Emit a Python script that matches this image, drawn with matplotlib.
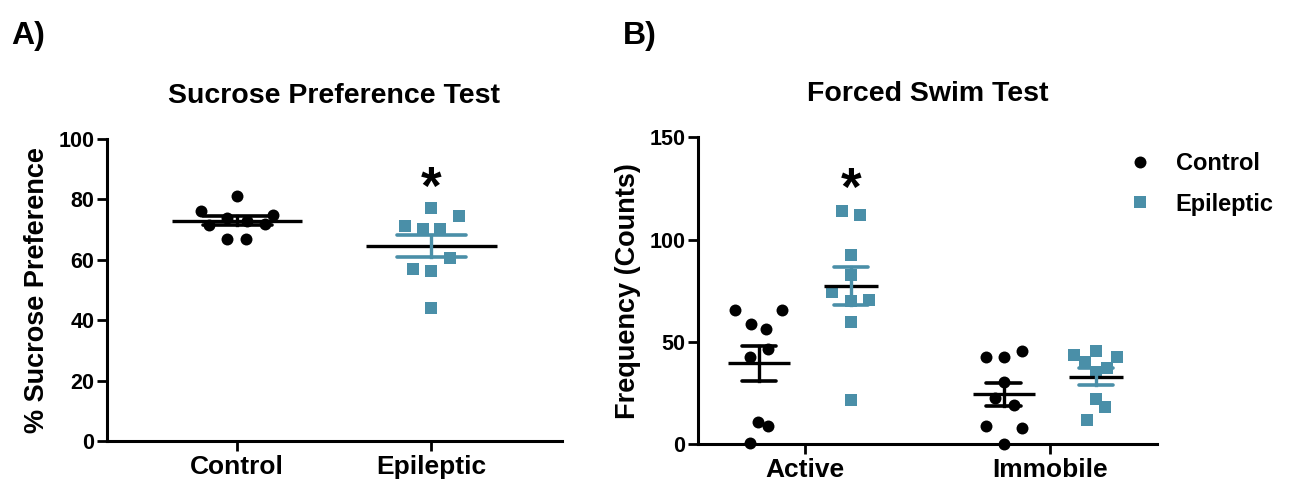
import numpy as np
import matplotlib.pyplot as plt
from matplotlib.lines import Line2D

plt.rcParams['font.family'] = ['Liberation Sans', 'DejaVu Sans']
plt.rcParams['font.weight'] = 'bold'
plt.rcParams['axes.labelweight'] = 'bold'

teal = '#4a8fa8'

# A) sucrose preference (%)
spt_groups = ['Control', 'Epileptic']
spt_control = [81, 76, 75, 74, 73, 72, 71.5, 67, 67]
spt_epileptic = [77.0, 74.5, 71.3, 70.2, 70.3, 60.7, 56.9, 56.3, 44.0]
# horizontal scatter of the points (category units)
spt_control_jit = [0, -0.186, 0.186, -0.052, 0.052, 0.144, -0.144, -0.052, 0.046]
spt_epileptic_jit = [0, 0.141, -0.138, -0.046, 0.046, 0.094, -0.096, 0, 0]

# B) forced swim test (counts)
fst_groups = ['Active', 'Immobile']
fst_control_active = [65.6, 65.6, 58.6, 56.5, 46.5, 42.8, 11.0, 8.9, 0.8]
fst_epileptic_active = [114.1, 112.2, 92.3, 82.5, 74.2, 70.5, 70.2, 59.6, 21.6]
fst_control_immobile = [42.8, 42.8, 45.7, 30.6, 22.5, 19.2, 8.9, 8.1, 0]
fst_epileptic_immobile = [43.6, 45.7, 42.8, 40.4, 37.1, 35.5, 22.0, 18.1, 11.9]
fst_control_active_jit = [-0.098, 0.093, -0.033, 0.029, 0.037, -0.037, -0.004, 0.037, -0.037]
fst_epileptic_active_jit = [-0.038, 0.037, 0, 0, -0.076, 0.075, 0, 0, 0]
fst_control_immobile_jit = [-0.075, 0, 0.073, 0, -0.037, 0.041, -0.075, 0.073, 0]
fst_epileptic_immobile_jit = [-0.089, 0, 0.087, -0.044, 0.045, 0, 0, 0.038, -0.037]


def group(ax, x, vals, jit, marker, color, mean_w, cap_w, ms):
    vals = np.array(vals, dtype=float)
    m = vals.mean()
    sem = vals.std(ddof=1) / np.sqrt(len(vals))
    ax.plot(x + np.array(jit), vals, linestyle='none', marker=marker, color=color,
            markersize=ms, markeredgewidth=0, zorder=2, clip_on=False)
    ax.plot([x - mean_w, x + mean_w], [m, m], color='black', lw=2.4, zorder=3,
            solid_capstyle='butt')
    ax.plot([x, x], [m - sem, m + sem], color=color, lw=2.4, zorder=3)
    for yy in (m - sem, m + sem):
        ax.plot([x - cap_w, x + cap_w], [yy, yy], color=color, lw=2.6, zorder=3,
                solid_capstyle='round')


def style(ax):
    for s in ['top', 'right']:
        ax.spines[s].set_visible(False)
    for s in ['left', 'bottom']:
        ax.spines[s].set_linewidth(2.2)
    ax.tick_params(axis='both', width=2.0, length=7, direction='out')
    ax.tick_params(axis='y', labelsize=15.5, pad=2)
    ax.tick_params(axis='x', labelsize=19, pad=3)


fig = plt.figure(figsize=(12.92, 4.84), dpi=100)

# ---- panel A
ax1 = fig.add_axes([0.0828, 0.0888, 0.3522, 0.624])
group(ax1, 0, spt_control, spt_control_jit, 'o', 'black', 0.335, 0.178, 8.6)
group(ax1, 1, spt_epileptic, spt_epileptic_jit, 's', teal, 0.335, 0.178, 8.6)
ax1.set_xlim(-0.67, 1.672)
ax1.set_ylim(0, 100)
ax1.set_yticks([0, 20, 40, 60, 80, 100])
ax1.set_xticks([0, 1])
ax1.set_xticklabels(spt_groups)
ax1.set_ylabel('% Sucrose Preference', fontsize=19.5, labelpad=6)
ax1.set_title('Sucrose Preference Test', fontsize=20.5, fontweight='bold', pad=26)
ax1.text(1, 78.5, '*', fontsize=38, ha='center', va='baseline')
style(ax1)

# ---- panel B
ax2 = fig.add_axes([0.5402, 0.082, 0.3553, 0.6343])
off = 0.188
group(ax2, 0 - off, fst_control_active, fst_control_active_jit, 'o', 'black', 0.125, 0.071, 8.6)
group(ax2, 0 + off, fst_epileptic_active, fst_epileptic_active_jit, 's', teal, 0.11, 0.071, 8.6)
group(ax2, 1 - off, fst_control_immobile, fst_control_immobile_jit, 'o', 'black', 0.125, 0.071, 8.6)
group(ax2, 1 + off, fst_epileptic_immobile, fst_epileptic_immobile_jit, 's', teal, 0.11, 0.071, 8.6)
ax2.set_xlim(-0.437, 1.437)
ax2.set_ylim(0, 150)
ax2.set_yticks([0, 50, 100, 150])
ax2.set_xticks([0, 1])
ax2.set_xticklabels(fst_groups)
ax2.set_ylabel('Frequency (Counts)', fontsize=19.5, labelpad=6)
ax2.set_title('Forced Swim Test', fontsize=20.5, fontweight='bold', pad=26)
ax2.text(off, 117, '*', fontsize=38, ha='center', va='baseline')
style(ax2)

handles = [Line2D([], [], linestyle='none', marker='o', color='black', markersize=8.6, markeredgewidth=0),
           Line2D([], [], linestyle='none', marker='s', color=teal, markersize=8.6, markeredgewidth=0)]
fig.legend(handles, ['Control', 'Epileptic'], loc='upper left', bbox_to_anchor=(0.857, 0.73),
           frameon=False, fontsize=17, handlelength=1.0, handletextpad=1.0, labelspacing=0.75)

fig.text(0.009, 0.91, 'A)', fontsize=23, fontweight='bold')
fig.text(0.482, 0.91, 'B)', fontsize=23, fontweight='bold')

fig.savefig('out.png', dpi=100)
